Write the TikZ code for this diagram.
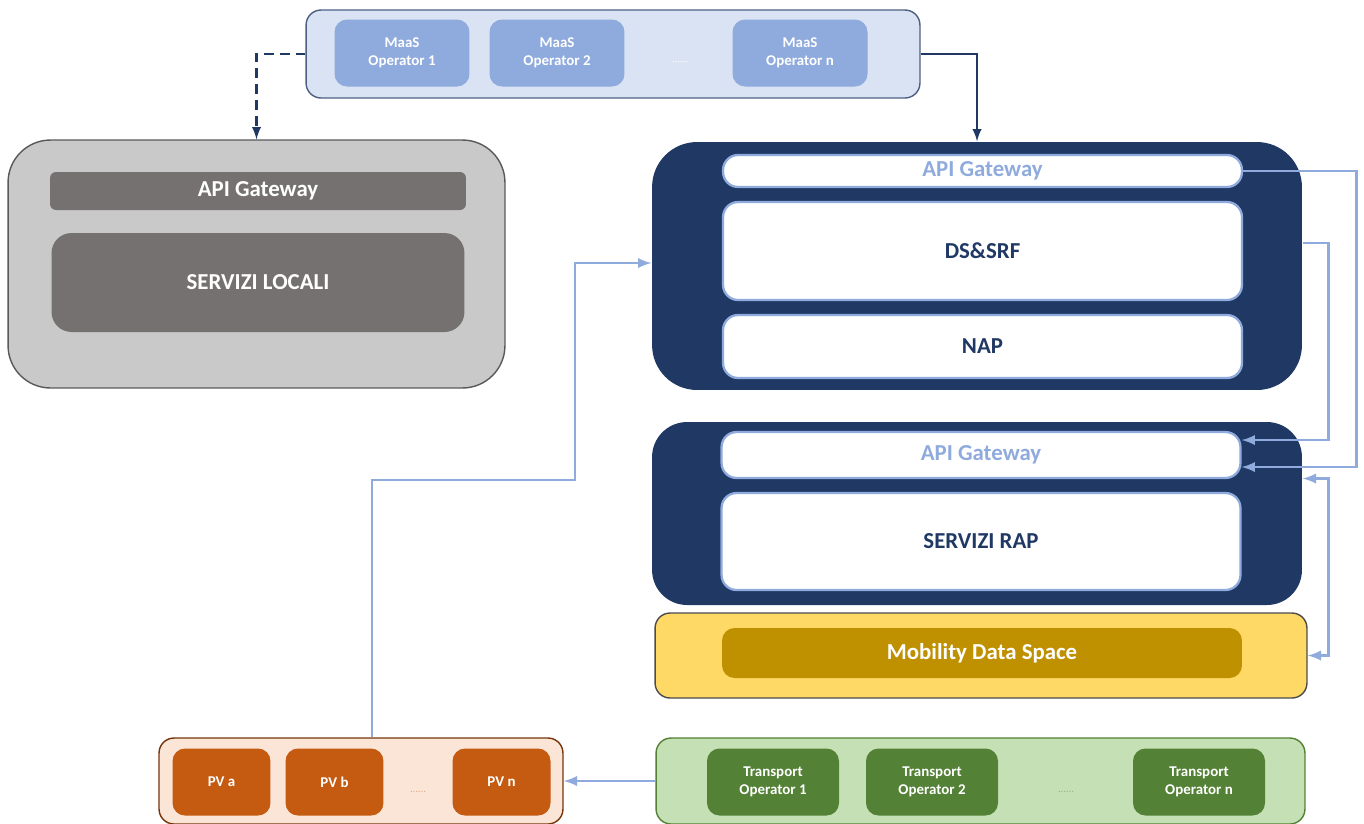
\documentclass[tikz,border=0pt]{standalone}
\usepackage{fontspec}
\setmainfont{Carlito}
\usetikzlibrary{arrows,positioning}
\definecolor{navy}{HTML}{203864}
\definecolor{lightblue}{HTML}{8FAADC}
\definecolor{maasbg}{HTML}{DAE3F3}
\definecolor{grayout}{HTML}{C9C9C9}
\definecolor{grayin}{HTML}{757171}
\definecolor{yellowbg}{HTML}{FFD966}
\definecolor{mdsfill}{HTML}{BF9000}
\definecolor{pvbg}{HTML}{FBE5D6}
\definecolor{pvfill}{HTML}{C55A11}
\definecolor{trbg}{HTML}{C5E0B4}
\definecolor{trfill}{HTML}{538135}
\tikzset{
  panel/.style={rectangle,inner sep=0pt,line width=0.8pt},
  tile/.style={rectangle,inner sep=0pt,align=center,font=\bfseries},
  whitebox/.style={tile,fill=white,draw=lightblue,line width=1.3pt,rounded corners=0.3cm,minimum width=10.38cm},
  maasop/.style={tile,fill=lightblue,text=white,rounded corners=0.25cm,minimum width=2.7cm,minimum height=1.34cm,font=\bfseries\fontsize{8.5}{10}\selectfont},
  pvop/.style={tile,fill=pvfill,text=white,rounded corners=0.25cm,minimum width=1.96cm,minimum height=1.34cm,font=\bfseries\fontsize{8.5}{10}\selectfont},
  trop/.style={tile,fill=trfill,text=white,rounded corners=0.25cm,minimum width=2.64cm,minimum height=1.34cm,font=\bfseries\fontsize{8.5}{10}\selectfont},
  dots/.style={font=\fontsize{6}{6}\selectfont,text=#1},
  link/.style={draw=lightblue,line width=1.6pt,-latex},
}
\begin{document}
\begin{tikzpicture}[x=0.02cm,y=-0.02cm]
  \useasboundingbox (0,0) rectangle (1364,823);
  % MaaS operators
  \node[panel,fill=maasbg,draw=navy!80,rounded corners=0.3cm,minimum width=12.28cm,minimum height=1.76cm] (maas) at (613,54) {};
  \node[maasop] (maas1) at (402,53) {MaaS\\Operator 1};
  \node[maasop] (maas2) at (557,53) {MaaS\\Operator 2};
  \node[dots=white] (maasdots) at (680,62) {......};
  \node[maasop] (maasn) at (800,53) {MaaS\\Operator n};
  % local services
  \node[panel,fill=grayout,draw=black!65,rounded corners=0.85cm,minimum width=9.94cm,minimum height=4.96cm] (local) at (256.5,264) {};
  \node[tile,fill=grayin,text=white,rounded corners=0.12cm,minimum width=8.32cm,minimum height=0.76cm,font=\bfseries\fontsize{13}{15}\selectfont] (localapi) at (258,191) {API Gateway};
  \node[tile,fill=grayin,text=white,rounded corners=0.4cm,minimum width=8.26cm,minimum height=1.98cm,font=\bfseries\fontsize{13}{15}\selectfont] (localsrv) at (258,282.5) {SERVIZI LOCALI};
  % national platform
  \node[panel,fill=navy,rounded corners=0.9cm,minimum width=13cm,minimum height=4.96cm] (nat) at (977,266) {};
  \node[whitebox,minimum height=0.64cm,text=lightblue,font=\bfseries\fontsize{13}{15}\selectfont] (natapi) at (982.5,171) {API Gateway};
  \node[whitebox,minimum height=1.96cm,text=navy,font=\bfseries\fontsize{13}{15}\selectfont] (dssrf) at (982.5,251) {DS\&SRF};
  \node[whitebox,minimum height=1.26cm,text=navy,font=\bfseries\fontsize{13}{15}\selectfont] (nap) at (982.5,346.5) {NAP};
  % regional platform
  \node[panel,fill=navy,rounded corners=0.7cm,minimum width=13cm,minimum height=3.66cm] (rap) at (977,513.5) {};
  \node[whitebox,minimum height=0.92cm,text=lightblue,font=\bfseries\fontsize{13}{15}\selectfont] (rapapi) at (981,455) {API Gateway};
  \node[whitebox,minimum height=1.94cm,text=navy,font=\bfseries\fontsize{13}{15}\selectfont] (rapsrv) at (981,541.5) {SERVIZI RAP};
  % mobility data space
  \node[panel,fill=yellowbg,draw=black!70,rounded corners=0.3cm,minimum width=13.04cm,minimum height=1.7cm] (mds) at (981,655.5) {};
  \node[tile,fill=mdsfill,text=white,rounded corners=0.25cm,minimum width=10.4cm,minimum height=1cm,font=\bfseries\fontsize{13}{15}\selectfont] (mdsin) at (982,653) {Mobility Data Space};
  % points of sale
  \node[panel,fill=pvbg,draw=pvfill!60!black,rounded corners=0.3cm,minimum width=8.08cm,minimum height=1.72cm] (pv) at (361,781) {};
  \node[pvop] (pva) at (221.5,782) {PV a};
  \node[pvop] (pvb) at (334.5,782) {PV b};
  \node[dots=pvfill!50] (pvdots) at (418,792) {......};
  \node[pvop] (pvn) at (501.5,782) {PV n};
  % transport operators
  \node[panel,fill=trbg,draw=trfill,rounded corners=0.3cm,minimum width=12.98cm,minimum height=1.72cm] (tr) at (980.5,781) {};
  \node[trop] (tr1) at (773,782) {Transport\\Operator 1};
  \node[trop] (tr2) at (932,782) {Transport\\Operator 2};
  \node[dots=trfill!60] (trdots) at (1066,792) {......};
  \node[trop] (trn) at (1199,782) {Transport\\Operator n};
  % connectors
  \coordinate (pvbend) at (575,480);
  \draw[navy,line width=1.4pt,dash pattern=on 5.5pt off 3.5pt,-latex] (maas.west) -| (local.north);
  \draw[navy,line width=1.4pt,-latex] (maas.east) -| (nat.north);
  \draw[link] ([xshift=0.22cm]pv.north) |- (pvbend) |- ([yshift=0.06cm]nat.west);
  \draw[link] (tr.west) -- (pv.east);
  \draw[link] (natapi.east) -- ++(113,0) |- ([yshift=-0.24cm]rapapi.east);
  \draw[link] ([yshift=0.46cm]nat.east) -- ++(26,0) |- ([yshift=0.3cm]rapapi.east);
  \draw[link,latex-latex] ([yshift=0.7cm]rap.east) -- ++(26,0) |- (mds.east);
\end{tikzpicture}
\end{document}
